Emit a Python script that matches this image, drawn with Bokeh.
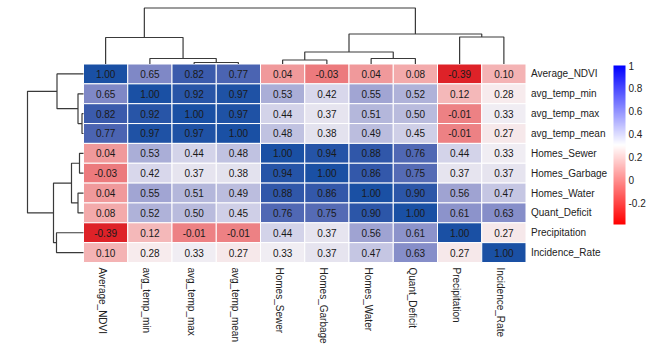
import numpy as np
from bokeh.plotting import figure
from bokeh.models import (ColumnDataSource, LinearColorMapper, ColorBar, FixedTicker,
                          CustomJSTickFormatter, Range1d)
from bokeh.transform import transform
from bokeh.core.properties import value
from bokeh.embed import file_html
from bokeh.resources import INLINE

# ---------------- data ----------------
variables = ["Average_NDVI", "avg_temp_min", "avg_temp_max", "avg_temp_mean",
             "Homes_Sewer", "Homes_Garbage", "Homes_Water", "Quant_Deficit",
             "Precipitation", "Incidence_Rate"]

corr_Average_NDVI   = [1.00, 0.65, 0.82, 0.77, 0.04, -0.03, 0.04, 0.08, -0.39, 0.10]
corr_avg_temp_min   = [0.65, 1.00, 0.92, 0.97, 0.53, 0.42, 0.55, 0.52, 0.12, 0.28]
corr_avg_temp_max   = [0.82, 0.92, 1.00, 0.97, 0.44, 0.37, 0.51, 0.50, -0.01, 0.33]
corr_avg_temp_mean  = [0.77, 0.97, 0.97, 1.00, 0.48, 0.38, 0.49, 0.45, -0.01, 0.27]
corr_Homes_Sewer    = [0.04, 0.53, 0.44, 0.48, 1.00, 0.94, 0.88, 0.76, 0.44, 0.33]
corr_Homes_Garbage  = [-0.03, 0.42, 0.37, 0.38, 0.94, 1.00, 0.86, 0.75, 0.37, 0.37]
corr_Homes_Water    = [0.04, 0.55, 0.51, 0.49, 0.88, 0.86, 1.00, 0.90, 0.56, 0.47]
corr_Quant_Deficit  = [0.08, 0.52, 0.50, 0.45, 0.76, 0.75, 0.90, 1.00, 0.61, 0.63]
corr_Precipitation  = [-0.39, 0.12, -0.01, -0.01, 0.44, 0.37, 0.56, 0.61, 1.00, 0.27]
corr_Incidence_Rate = [0.10, 0.28, 0.33, 0.27, 0.33, 0.37, 0.47, 0.63, 0.27, 1.00]

# hierarchical clustering merges (leaf indices follow `variables`; new nodes are 10, 11, ...)
merge_a      = [2, 1, 0, 4, 6, 13, 8, 15, 12]
merge_b      = [3, 10, 11, 5, 7, 14, 9, 16, 17]
merge_height = [1.5, 5.5, 26.5, 4.0, 5.5, 12.0, 27.0, 30.0, 56.0]

colorbar_ticks = [-0.2, 0, 0.2, 0.4, 0.6, 0.8, 1]

rows = [corr_Average_NDVI, corr_avg_temp_min, corr_avg_temp_max, corr_avg_temp_mean,
        corr_Homes_Sewer, corr_Homes_Garbage, corr_Homes_Water, corr_Quant_Deficit,
        corr_Precipitation, corr_Incidence_Rate]

# ---------------- layout ----------------
W, H = 668, 349
HM_LEFT, HM_TOP = 83.0, 63.5
COL_PX, ROW_PX = 44.25, 19.85
N = len(variables)
FONT = "Liberation Sans"

vmin = min(min(r) for r in rows)
vmax = max(max(r) for r in rows)


def hex2rgb(h):
    h = h.lstrip("#")
    return tuple(int(h[i:i + 2], 16) for i in (0, 2, 4))


def make_palette(stops, low, high, n=256):
    vals = [s[0] for s in stops]
    cols = [hex2rgb(s[1]) for s in stops]
    out = []
    for i in range(n):
        v = low + (high - low) * i / (n - 1)
        r = [int(round(np.interp(v, vals, [c[k] for c in cols]))) for k in range(3)]
        out.append("#%02x%02x%02x" % tuple(r))
    return out


mid = (vmin + vmax) / 2
cell_palette = make_palette([(vmin, "#de2228"), (-0.03, "#ec7a7d"), (0.10, "#f4b3b4"),
                             (mid, "#f7f3f5"), (0.44, "#d3d3e9"), (0.55, "#a2a6d3"),
                             (0.65, "#7f88c6"), (0.80, "#3f5cad"), (vmax, "#1a50a4")],
                            vmin, vmax)
bar_palette = make_palette([(vmin, "#ff0000"), (mid, "#ffffff"), (vmax, "#0000ff")], vmin, vmax)

p = figure(width=W, height=H, output_backend="svg", toolbar_location=None,
           x_range=Range1d(-HM_LEFT / COL_PX, (W - HM_LEFT) / COL_PX),
           y_range=Range1d((H - HM_TOP) / ROW_PX, -HM_TOP / ROW_PX),
           x_axis_type=None, y_axis_type=None, min_border=0)
p.outline_line_color = None
p.xgrid.visible = False
p.ygrid.visible = False
p.background_fill_color = "white"

# heatmap cells
xs, ys, vs, txt = [], [], [], []
for r, row in enumerate(rows):
    for c, v in enumerate(row):
        xs.append(c + 0.5)
        ys.append(r + 0.5)
        vs.append(v)
        txt.append("%.2f" % v)
src = ColumnDataSource(dict(x=xs, y=ys, v=vs, t=txt))
cmap = LinearColorMapper(palette=cell_palette, low=vmin, high=vmax)
p.rect(x="x", y="y", width=1, height=1, source=src,
       fill_color=transform("v", cmap), line_color="white", line_width=1)
p.text(x="x", y="y", text="t", source=src, text_align="center", text_baseline="middle",
       text_font=value(FONT), text_font_size="10px", text_color="#1a1a1a")

# labels
lab = ColumnDataSource(dict(pos=[i + 0.5 for i in range(N)], edge=[N] * N, name=variables))
p.text(x="edge", y="pos", text="name", source=lab, x_offset=5, text_align="left",
       text_baseline="middle", text_font=value(FONT), text_font_size="10px", text_color="#222222")
p.text(x="pos", y="edge", text="name", source=lab, y_offset=5, x_offset=-3, angle=-np.pi / 2,
       text_align="left", text_baseline="middle", text_font=value(FONT),
       text_font_size="10px", text_color="#222222")

# dendrograms
pos = {i: i + 0.5 for i in range(N)}
ht = {i: 0.0 for i in range(N)}
top_xs, top_ys, left_xs, left_ys = [], [], [], []
for k, (a, b, h) in enumerate(zip(merge_a, merge_b, merge_height)):
    node = N + k
    top_xs.append([pos[a], pos[a], pos[b], pos[b]])
    top_ys.append([-ht[a] / ROW_PX, -h / ROW_PX, -h / ROW_PX, -ht[b] / ROW_PX])
    left_xs.append([-ht[a] / COL_PX, -h / COL_PX, -h / COL_PX, -ht[b] / COL_PX])
    left_ys.append([pos[a], pos[a], pos[b], pos[b]])
    pos[node] = (pos[a] + pos[b]) / 2
    ht[node] = h
p.multi_line(xs=top_xs, ys=top_ys, line_color="#3a3a3a", line_width=1.2)
p.multi_line(xs=left_xs, ys=left_ys, line_color="#3a3a3a", line_width=1.2)

# colour bar
bar_mapper = LinearColorMapper(palette=bar_palette, low=vmin, high=vmax)
cb = ColorBar(color_mapper=bar_mapper, ticker=FixedTicker(ticks=colorbar_ticks),
              formatter=CustomJSTickFormatter(code="return String(tick);"),
              width=12, height=159, location=(613, H - 224), padding=0, margin=0,
              major_tick_line_color=None, minor_tick_line_color=None, bar_line_color=None,
              background_fill_color=None, border_line_color=None, label_standoff=3,
              major_label_text_font=FONT, major_label_text_font_size="10px",
              major_label_text_color="#222222")
p.add_layout(cb)

open("out.html", "w").write(file_html(p, INLINE))
